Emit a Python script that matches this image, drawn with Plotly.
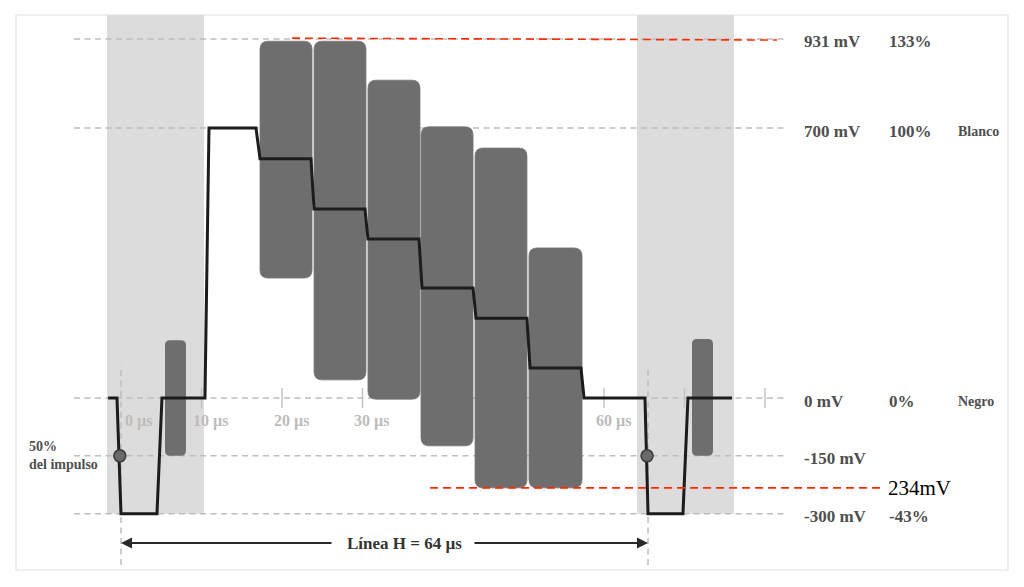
import plotly.graph_objects as go

# ---------------- data ----------------
wave_t = [-1.6, -0.5, 0.0, 4.47, 5.09, 10.43, 10.93, 16.77, 17.27, 23.6, 23.98, 30.31,
          30.68, 37.02, 37.39, 43.73, 44.1, 50.43, 50.81, 57.14, 57.52, 65.09, 65.47,
          69.81, 70.43, 75.9]
wave_mv = [0, 0, -300, -300, 0, 0, 700, 700, 620, 620, 490, 490,
           412, 412, 285, 285, 207, 207, 78, 78, 0, 0, -300,
           -300, 0, 0]

bar_t0 = [17.27, 23.98, 30.68, 37.27, 43.98, 50.68]
bar_t1 = [23.73, 30.43, 37.14, 43.73, 50.43, 57.27]
bar_top = [925, 925, 824, 703, 648, 389]
bar_bottom = [311, 47, -3, -124, -233, -233]

burst_t0 = [5.47, 70.93]
burst_t1 = [8.07, 73.54]
burst_top = [150, 153]
burst_bottom = [-150, -150]

blank_t0 = [-1.74, 64.10]
blank_t1 = [10.31, 76.15]
blank_bottom = -300

levels_mv = [931, 700, 0, -150, -300]
level_mv_labels = ["931 mV", "700 mV", "0 mV", "-150 mV", "-300 mV"]
level_pct_labels = ["133%", "100%", "0%", "", "-43%"]
level_names = ["", "Blanco", "Negro", "", ""]

tick_us = [10, 20, 30, 40, 50, 60, 70, 80]
tick_label_us = [0, 10, 20, 30, 60]
tick_labels = ["0 µs", "10 µs", "20 µs", "30 µs", "60 µs"]

sync_50_t = [-0.15, 65.35]
sync_50_mv = [-150, -150]
line_h_t = [0.0, 65.47]
line_h_label = "Línea H = 64 µs"
pulse_label = "50%<br>del impulso"

red_top_t = [21.24, 81.49]
red_top_mv = [933, 928]
red_bot_t = [38.39, 94.53]
red_bot_mv = [-233, -233]
red_bot_label = "234mV"

# ---------------- pixel calibration (layout only) ----------------
OFF = 8                    # body margin of the html page
W, H = 1024 - 2 * OFF, 587 - 2 * OFF
PX_US, X0 = 8.05, 121      # page px per µs, page px of 0 µs
PX_MV, Y0 = 0.3857, 398    # page px per mV, page px of 0 mV


def ux(px):
    return (px - X0) / PX_US


def uy(py):
    return (Y0 - py) / PX_MV


xr = [ux(OFF), ux(OFF + W)]
yr = [uy(OFF + H), uy(OFF)]

SERIF = "Liberation Serif, Times New Roman, serif"
LAB = "#4f4f4f"


def rrect(x0, x1, y0, y1, rpx):
    rx, ry = rpx / PX_US, rpx / PX_MV
    return (f"M{x0+rx},{y1} L{x1-rx},{y1} Q{x1},{y1} {x1},{y1-ry} "
            f"L{x1},{y0+ry} Q{x1},{y0} {x1-rx},{y0} L{x0+rx},{y0} "
            f"Q{x0},{y0} {x0},{y0+ry} L{x0},{y1-ry} Q{x0},{y1} {x0+rx},{y1} Z")


shapes = []
# outer frame
shapes.append(dict(type="rect", x0=ux(16), x1=ux(1008), y0=uy(570), y1=uy(15),
                   line=dict(color="#e2e2e2", width=1.2), layer="below"))
# blanking shades
for a, b in zip(blank_t0, blank_t1):
    shapes.append(dict(type="rect", x0=a, x1=b, y0=blank_bottom, y1=uy(15),
                       fillcolor="#dcdcdc", line=dict(width=0), layer="below"))
# level dashed lines
for lv in levels_mv:
    shapes.append(dict(type="line", x0=ux(74), x1=ux(788), y0=lv, y1=lv,
                       line=dict(color="#bdbdbd", width=1.5, dash="6px,4.5px"), layer="below"))
# ticks on 0 mV line
for t in tick_us:
    shapes.append(dict(type="line", x0=t, x1=t, y0=-26, y1=26,
                       line=dict(color="#c4c4c4", width=1.5), layer="below"))
# vertical dashed at sync 50%
for t in line_h_t:
    shapes.append(dict(type="line", x0=t, x1=t, y0=uy(565), y1=uy(365),
                       line=dict(color="#bdbdbd", width=1.5, dash="6px,4.5px"), layer="below"))
# color bars
for a, b, lo, hi in zip(bar_t0, bar_t1, bar_bottom, bar_top):
    shapes.append(dict(type="path", path=rrect(a, b, lo, hi, 8),
                       fillcolor="#6e6e6e", line=dict(color="#767676", width=0.8), layer="below"))
# bursts
for a, b, lo, hi in zip(burst_t0, burst_t1, burst_bottom, burst_top):
    shapes.append(dict(type="path", path=rrect(a, b, lo, hi, 5),
                       fillcolor="#6e6e6e", line=dict(width=0), layer="below"))
# red dashed lines
shapes.append(dict(type="line", x0=red_top_t[0], x1=red_top_t[1], y0=red_top_mv[0], y1=red_top_mv[1],
                   line=dict(color="#ff2a00", width=1.6, dash="8px,5px"), layer="above"))
shapes.append(dict(type="line", x0=red_bot_t[0], x1=red_bot_t[1], y0=red_bot_mv[0], y1=red_bot_mv[1],
                   line=dict(color="#ff2a00", width=1.6, dash="8px,5px"), layer="above"))

fig = go.Figure()
fig.add_trace(go.Scatter(x=wave_t, y=wave_mv, mode="lines",
                         line=dict(color="#1c1c1c", width=3), hoverinfo="skip"))
fig.add_trace(go.Scatter(x=sync_50_t, y=sync_50_mv, mode="markers",
                         marker=dict(size=12, color="#6a6a6a", line=dict(color="#3a3a3a", width=1.5)),
                         hoverinfo="skip"))

ann = []
for lv, a, b, c in zip(levels_mv, level_mv_labels, level_pct_labels, level_names):
    ann.append(dict(x=ux(802), y=lv, text=f"<b>{a}</b>", xanchor="left", yanchor="middle",
                    yshift=-3, showarrow=False, font=dict(family=SERIF, size=17, color=LAB)))
    if b:
        ann.append(dict(x=ux(887), y=lv, text=f"<b>{b}</b>", xanchor="left", yanchor="middle",
                        yshift=-3, showarrow=False, font=dict(family=SERIF, size=17, color=LAB)))
    if c:
        ann.append(dict(x=ux(956), y=lv, text=f"<b>{c}</b>", xanchor="left", yanchor="middle",
                        yshift=-3, showarrow=False, font=dict(family=SERIF, size=14, color=LAB)))

for t, lab in zip(tick_label_us, tick_labels):
    ann.append(dict(x=t, y=0, text=f"<b>{lab}</b>", xanchor="center", yanchor="middle",
                    xshift=17 if t == 0 else 9, yshift=-23, showarrow=False,
                    font=dict(family=SERIF, size=16, color="#bcbcbc")))

ann.append(dict(x=ux(27), y=-150, text=f"<b>{pulse_label}</b>", xanchor="left", yanchor="middle",
                align="left", showarrow=False, font=dict(family=SERIF, size=14, color=LAB)))

ann.append(dict(x=red_bot_t[1], y=red_bot_mv[0], text=red_bot_label, xanchor="left", yanchor="middle",
                xshift=4, showarrow=False, font=dict(family=SERIF, size=21, color="#000000")))

# H line arrows
yh = uy(543)
mid = ux(404)
for tip, tail in [(line_h_t[0], ux(333)), (line_h_t[1], ux(473))]:
    ann.append(dict(x=tip, y=yh, ax=tail, ay=yh, axref="x", ayref="y", text="",
                    showarrow=True, arrowhead=2, arrowsize=1.1, arrowwidth=2,
                    arrowcolor="#2a2a2a", standoff=0, startstandoff=0))
ann.append(dict(x=mid, y=yh, text=f"<b>{line_h_label}</b>", showarrow=False,
                xanchor="center", yanchor="middle", font=dict(family=SERIF, size=17, color="#333333")))

fig.update_layout(
    width=W, height=H, autosize=False,
    margin=dict(l=0, r=0, t=0, b=0),
    paper_bgcolor="white", plot_bgcolor="white",
    showlegend=False,
    xaxis=dict(range=xr, visible=False, fixedrange=True),
    yaxis=dict(range=yr, visible=False, fixedrange=True),
    shapes=shapes, annotations=ann,
)

fig.write_html("out.html")
